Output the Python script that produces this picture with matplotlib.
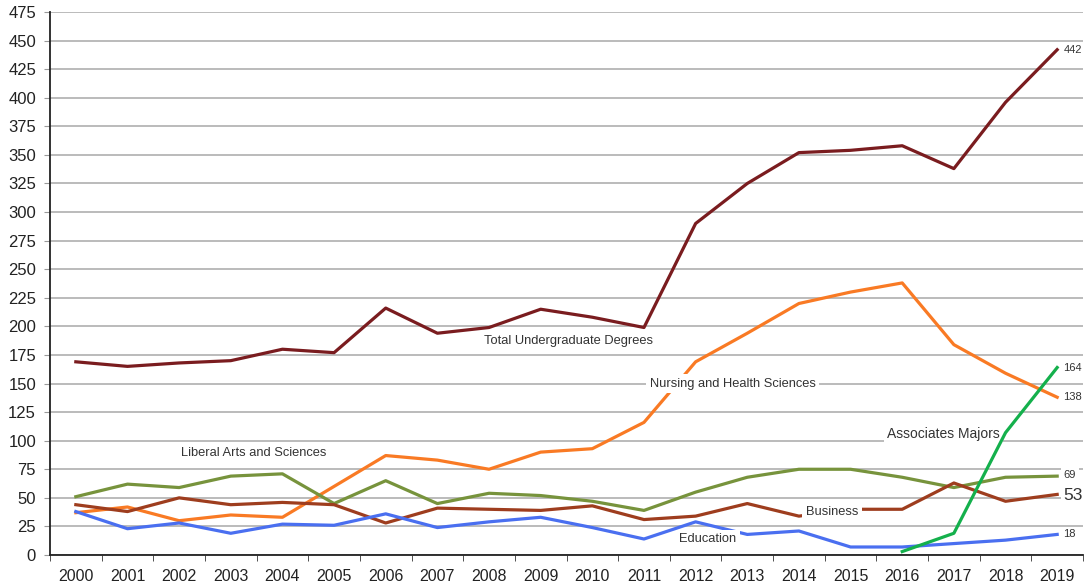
import numpy as np
import matplotlib
matplotlib.use("Agg")
import matplotlib.pyplot as plt

plt.rcParams['font.family'] = ['Liberation Sans', 'DejaVu Sans']

years = [str(y) for y in range(2000, 2020)]

total = [169, 165, 168, 170, 180, 177, 216, 194, 199, 215, 208, 199,
         290, 325, 352, 354, 358, 338, 396, 442]
nursing = [37, 42, 30, 35, 33, 60, 87, 83, 75, 90, 93, 116,
           169, 194, 220, 230, 238, 184, 159, 138]
liberal = [51, 62, 59, 69, 71, 45, 65, 45, 54, 52, 47, 39,
           55, 68, 75, 75, 68, 59, 68, 69]
business = [44, 38, 50, 44, 46, 44, 28, 41, 40, 39, 43, 31,
            34, 45, 34, 40, 40, 63, 47, 53]
education = [38, 23, 28, 19, 27, 26, 36, 24, 29, 33, 24, 14,
             29, 18, 21, 7, 7, 10, 13, 18]
associates = [np.nan] * 16 + [3, 19, 107, 164]

yticks = list(range(0, 476, 25))

fig = plt.figure(figsize=(10.84, 5.86), dpi=100)
ax = fig.add_axes([50 / 1084, 31 / 586, 1033 / 1084, 543 / 586])

x = np.arange(len(years))
lw = 2.3
ax.plot(x, total, color='#7A1C1F', lw=lw, zorder=3)
ax.plot(x, nursing, color='#F97A24', lw=lw, zorder=3)
ax.plot(x, liberal, color='#77933C', lw=lw, zorder=3)
ax.plot(x, business, color='#9E3D1E', lw=lw, zorder=3)
ax.plot(x, education, color='#4A6FF0', lw=lw, zorder=3)
ax.plot(x, associates, color='#14B04C', lw=lw, zorder=6)

ax.set_xlim(-0.5, len(years) - 0.5)
ax.set_ylim(0, 475)
ax.set_yticks(yticks)
ax.set_yticklabels([str(v) for v in yticks], fontsize=12, color='#222222')
ax.set_xticks(x)
ax.set_xticklabels(years, fontsize=11.5, color='#222222')
ax.set_xticks(np.arange(-0.5, len(years), 1), minor=True)
ax.tick_params(axis='x', which='major', length=0, pad=10)
ax.tick_params(axis='x', which='minor', length=4, direction='out', color='#333333')
ax.tick_params(axis='y', length=4, direction='out', color='#999999', pad=6)

ax.grid(axis='y', color='#A8A8A8', lw=1.1, zorder=1)
ax.set_axisbelow(True)
for side in ('top', 'right'):
    ax.spines[side].set_visible(False)
ax.spines['left'].set_color('#222222')
ax.spines['bottom'].set_color('#222222')
ax.spines['left'].set_linewidth(1.3)
ax.spines['bottom'].set_linewidth(1.3)

box = dict(facecolor='white', edgecolor='none', pad=2.5)

def series_label(xv, yv, text, size=9.3, ha='center'):
    ax.text(xv, yv, text, fontsize=size, color='#333333', ha=ha, va='center',
            bbox=box, zorder=5)

series_label(9.53, 187, 'Total Undergraduate Degrees')
series_label(12.72, 150, 'Nursing and Health Sciences')
series_label(3.45, 89, 'Liberal Arts and Sciences')
series_label(16.8, 106, 'Associates Majors', size=10)
series_label(14.64, 38, 'Business')
series_label(12.24, 14, 'Education')

def end_label(yv, value, size=8):
    ax.text(19.12, yv, str(value), fontsize=size, color='#333333', ha='left',
            va='center', bbox=dict(facecolor='white', edgecolor='none', pad=2),
            zorder=5, clip_on=False)

end_label(total[-1], total[-1])
end_label(associates[-1], associates[-1])
end_label(nursing[-1], nursing[-1])
end_label(liberal[-1] + 1, liberal[-1])
end_label(business[-1] - 1, business[-1], size=12.5)
end_label(education[-1], education[-1])

fig.savefig('out.png', dpi=100)
